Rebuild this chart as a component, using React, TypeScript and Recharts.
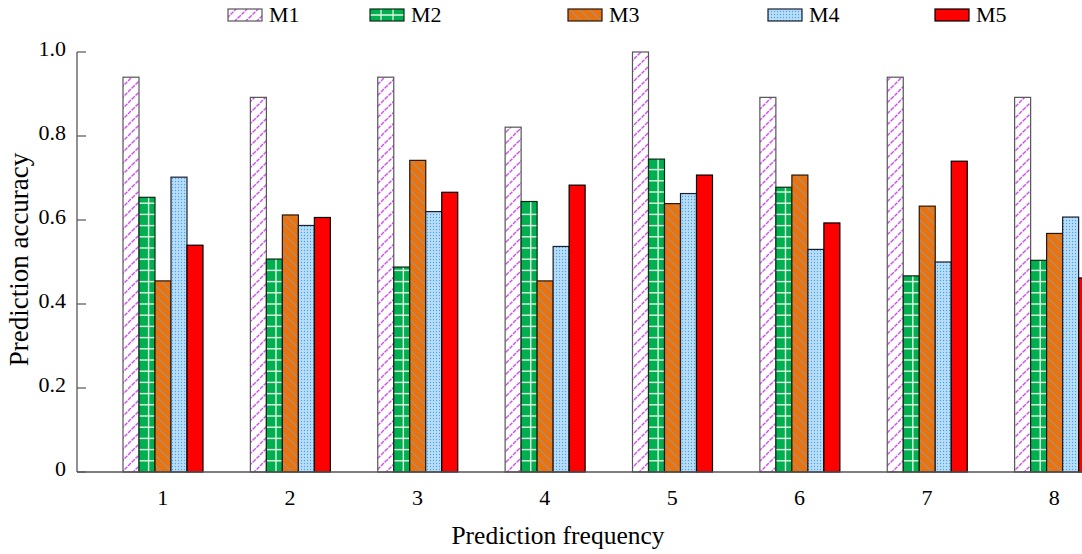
import React from 'react';
import { BarChart, Bar, XAxis, YAxis, Legend } from 'recharts';

const categories = ['1', '2', '3', '4', '5', '6', '7', '8'];
const seriesNames = ['M1', 'M2', 'M3', 'M4', 'M5'];
const m1 = [0.94, 0.892, 0.94, 0.821, 1.0, 0.892, 0.94, 0.892];
const m2 = [0.654, 0.507, 0.488, 0.644, 0.745, 0.678, 0.467, 0.504];
const m3 = [0.455, 0.612, 0.742, 0.455, 0.639, 0.707, 0.633, 0.568];
const m4 = [0.702, 0.587, 0.62, 0.537, 0.663, 0.53, 0.5, 0.607];
const m5 = [0.54, 0.606, 0.666, 0.683, 0.707, 0.593, 0.74, 0.462];
const yTicks = [0, 0.2, 0.4, 0.6, 0.8, 1.0];
const yTickLabels = ['0', '0.2', '0.4', '0.6', '0.8', '1.0'];

const data = categories.map((c, i) => ({ cat: c, M1: m1[i], M2: m2[i], M3: m3[i], M4: m4[i], M5: m5[i] }));

const FONT = 'Liberation Serif';

const Defs = () => (
  <svg width={0} height={0} style={{ position: 'absolute' }}>
    <defs>
      <pattern id="pM1" patternUnits="userSpaceOnUse" width={11} height={11}>
        <rect width={11} height={11} fill="#ffffff" />
        <path d="M0,11 L11,0 M-2,2 L2,-2 M9,13 L13,9" stroke="#d24ef2" strokeWidth={1.4} strokeDasharray="4 1" />
      </pattern>
      <pattern id="pM3" patternUnits="userSpaceOnUse" width={10} height={10}>
        <rect width={10} height={10} fill="#e9730f" />
        <path d="M0,0 L10,10 M-2,8 L2,12 M8,-2 L12,2" stroke="#a39385" strokeWidth={1.1} />
      </pattern>
      <pattern id="pM4" patternUnits="userSpaceOnUse" width={3} height={3}>
        <rect width={3} height={3} fill="#b9def8" />
        <circle cx={1.5} cy={1.5} r={0.7} fill="#4aa2e8" />
      </pattern>
    </defs>
  </svg>
);

const ShapeM1 = (p: any) => {
  const { x, y, width, height } = p;
  if (!height || height <= 0) return null;
  return <rect x={x} y={y} width={width} height={height} fill="url(#pM1)" stroke="#555" strokeWidth={1.2} />;
};

const ShapeM2 = (p: any) => {
  const { x, y, width, height } = p;
  if (!height || height <= 0) return null;
  const lines: React.ReactNode[] = [];
  const bottom = y + height;
  for (let yy = bottom - 11.2, k = 0; yy > y + 3; yy -= 11.2, k++) {
    lines.push(<line key={k} x1={x} x2={x + width} y1={yy} y2={yy} stroke="#e4f4e4" strokeWidth={1.4} />);
  }
  return (
    <g>
      <rect x={x} y={y} width={width} height={height} fill="#00b050" />
      {lines}
      <line x1={x + width * 0.6} x2={x + width * 0.6} y1={y} y2={bottom} stroke="#e4f4e4" strokeWidth={1.4} />
      <rect x={x} y={y} width={width} height={height} fill="none" stroke="#0b2a14" strokeWidth={1.2} />
    </g>
  );
};

const ShapeM3 = (p: any) => {
  const { x, y, width, height } = p;
  if (!height || height <= 0) return null;
  return <rect x={x} y={y} width={width} height={height} fill="url(#pM3)" stroke="#2a1505" strokeWidth={1.2} />;
};

const ShapeM4 = (p: any) => {
  const { x, y, width, height } = p;
  if (!height || height <= 0) return null;
  return <rect x={x} y={y} width={width} height={height} fill="url(#pM4)" stroke="#1a2030" strokeWidth={1.2} />;
};

const ShapeM5 = (p: any) => {
  const { x, y, width, height } = p;
  if (!height || height <= 0) return null;
  return <rect x={x} y={y} width={width} height={height} fill="#ff0000" stroke="#000" strokeWidth={1.2} />;
};

const swatchFill = ['url(#pM1)', '#00b050', 'url(#pM3)', 'url(#pM4)', '#ff0000'];
const swatchStroke = ['#555', '#0b2a14', '#2a1505', '#1a2030', '#000'];
const legendLeft = [227, 369, 567, 767, 934];

const LegendContent = () => (
  <div style={{ position: 'relative', width: 1082, height: 30 }}>
    {seriesNames.map((n, i) => (
      <div key={n} style={{ position: 'absolute', left: legendLeft[i], top: 0, height: 30, display: 'flex', alignItems: 'center' }}>
        <svg width={36} height={16} style={{ display: 'block' }}>
          {i === 1 ? (
            <g>
              <rect x={1} y={2} width={34} height={12} fill="#00b050" />
              <line x1={1} x2={35} y1={8} y2={8} stroke="#e4f4e4" strokeWidth={1.3} />
              <line x1={12} x2={12} y1={2} y2={14} stroke="#e4f4e4" strokeWidth={1.3} />
              <line x1={24} x2={24} y1={2} y2={14} stroke="#e4f4e4" strokeWidth={1.3} />
              <rect x={1} y={2} width={34} height={12} fill="none" stroke={swatchStroke[i]} strokeWidth={1.2} />
            </g>
          ) : (
            <rect x={1} y={2} width={34} height={12} fill={swatchFill[i]} stroke={swatchStroke[i]} strokeWidth={1.2} />
          )}
        </svg>
        <span style={{ fontFamily: FONT, fontSize: 22, color: '#000', marginLeft: 6, lineHeight: '30px' }}>{n}</span>
      </div>
    ))}
  </div>
);

const YTick = (props: any) => {
  const { x, y, payload } = props;
  const idx = yTicks.findIndex((t) => Math.abs(t - payload.value) < 1e-6);
  return (
    <g>
      <line x1={x + 11} x2={x + 20} y1={y} y2={y} stroke="#555" strokeWidth={1.2} />
      <text x={x} y={y - 4} dy="0.35em" textAnchor="end" style={{ fontFamily: FONT }} fontSize={22} fill="#000">
        {idx >= 0 ? yTickLabels[idx] : payload.value}
      </text>
    </g>
  );
};

export default function App() {
  return (
    <div style={{ position: 'absolute', left: 0, top: 0, width: 1082, height: 554, overflow: 'hidden', background: '#fff', fontFamily: FONT }}>
      <Defs />
      <BarChart
        width={1118}
        height={554}
        data={data}
        margin={{ top: 22, right: 0, bottom: 0, left: 0 }}
        barGap={0}
        style={{ fontFamily: FONT }}
      >
        <XAxis
          dataKey="cat"
          height={82}
          padding={{ left: 22, right: 0 }}
          tickLine={false}
          tickSize={0}
          tickMargin={17}
          axisLine={{ stroke: '#555', strokeWidth: 1.3 }}
          tick={{ fontFamily: FONT, fontSize: 22, fill: '#000' }}
          label={{ value: 'Prediction frequency', position: 'insideBottom', offset: 10, dx: -39.5, fontFamily: FONT, fontSize: 25.5, fill: '#000' }}
        />
        <YAxis
          width={77}
          domain={[0, 1]}
          ticks={yTicks}
          tickSize={0}
          tickMargin={11}
          tickLine={false}
          axisLine={{ stroke: '#555', strokeWidth: 1.3 }}
          tick={<YTick />}
          label={{ value: 'Prediction accuracy', angle: -90, position: 'center', dx: -20.5, dy: -2.5, fontFamily: FONT, fontSize: 27, fill: '#000' }}
        />
        <Legend verticalAlign="top" align="left" wrapperStyle={{ top: 0, left: 0, width: 1082, height: 30 }} content={<LegendContent />} />
        <Bar dataKey="M1" name="M1" barSize={16} shape={<ShapeM1 />} isAnimationActive={false} />
        <Bar dataKey="M2" name="M2" barSize={16} shape={<ShapeM2 />} isAnimationActive={false} />
        <Bar dataKey="M3" name="M3" barSize={16} shape={<ShapeM3 />} isAnimationActive={false} />
        <Bar dataKey="M4" name="M4" barSize={16} shape={<ShapeM4 />} isAnimationActive={false} />
        <Bar dataKey="M5" name="M5" barSize={16} shape={<ShapeM5 />} isAnimationActive={false} />
      </BarChart>
    </div>
  );
}
